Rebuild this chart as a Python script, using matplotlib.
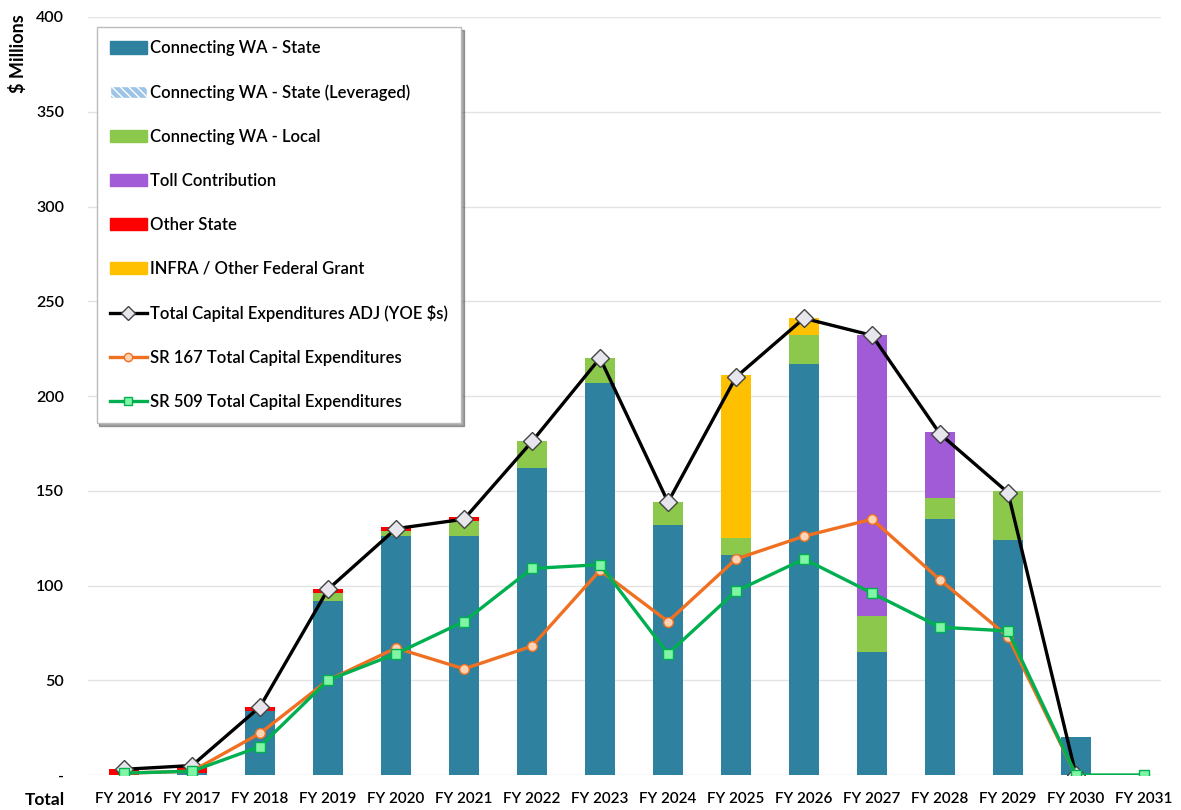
import numpy as np
import matplotlib
matplotlib.use("Agg")
import matplotlib.pyplot as plt
from matplotlib.patches import Patch
from matplotlib.lines import Line2D

plt.rcParams['font.family'] = ['Lato', 'DejaVu Sans']

years = ["FY 2016", "FY 2017", "FY 2018", "FY 2019", "FY 2020", "FY 2021", "FY 2022", "FY 2023",
         "FY 2024", "FY 2025", "FY 2026", "FY 2027", "FY 2028", "FY 2029", "FY 2030", "FY 2031"]

# stacked funding sources ($ millions)
state = [0, 1, 34, 92, 126, 126, 162, 207, 132, 116, 217, 65, 135, 124, 20, 0]
state_leveraged = [0] * 16
local = [0, 0, 0, 4, 3, 8, 14, 13, 12, 9, 15, 19, 11, 26, 0, 0]
toll = [0, 0, 0, 0, 0, 0, 0, 0, 0, 0, 0, 148, 35, 0, 0, 0]
other_state = [3, 3, 2, 2, 2, 2, 0, 0, 0, 0, 0, 0, 0, 0, 0, 0]
infra = [0, 0, 0, 0, 0, 0, 0, 0, 0, 86, 9, 0, 0, 0, 0, 0]

# lines
total_adj = [3, 5, 36, 98, 130, 135, 176, 220, 144, 210, 241, 232, 180, 149, 0, np.nan]
sr167 = [1, 2, 22, 50, 67, 56, 68, 108, 81, 114, 126, 135, 103, 73, 0, np.nan]
sr509 = [1, 2, 15, 50, 64, 81, 109, 111, 64, 97, 114, 96, 78, 76, 0, 0]

c_state = "#2F81A0"
c_lev = "#9DC3E6"
c_local = "#8CC84B"
c_toll = "#A25BD6"
c_other = "#FF0000"
c_infra = "#FFC000"

fig = plt.figure(figsize=(11.81, 8.10), dpi=100)
ax = fig.add_axes([88 / 1181, 1 - 775 / 810, (1161 - 88) / 1181, 758 / 810])

x = np.arange(len(years))
w = 0.45
bottom = np.zeros(len(years))
series = [(state, c_state), (state_leveraged, c_lev), (local, c_local),
          (toll, c_toll), (other_state, c_other), (infra, c_infra)]
for vals, col in series:
    vals = np.array(vals, dtype=float)
    ax.bar(x, vals, w, bottom=bottom, color=col, linewidth=0, zorder=2)
    bottom += vals

ax.plot(x, total_adj, color="black", lw=2.4, marker="D", ms=9, mfc="#E6E6EC",
        mec="#444444", mew=1, zorder=4)
ax.plot(x, sr167, color="#F07021", lw=2.4, marker="o", ms=7, mfc="#FBD3B5",
        mec="#F07021", mew=1, zorder=5)
ax.plot(x, sr509, color="#00B050", lw=2.4, marker="s", ms=7, mfc="#7FF5A5",
        mec="#00B050", mew=1, zorder=6)

ax.set_xlim(-0.53, 15.25)
ax.set_ylim(0, 400)
ax.set_yticks(range(0, 401, 50))
ax.set_yticklabels(["-"] + [str(v) for v in range(50, 401, 50)], fontweight="semibold")
ax.set_xticks(x)
ax.set_xticklabels(years, fontweight="semibold")
ax.tick_params(axis="y", length=0, pad=17, labelsize=11.5)
ax.tick_params(axis="x", length=0, pad=12, labelsize=11)
ax.grid(axis="y", color="#E3E3E3", lw=1, zorder=0)
ax.set_axisbelow(True)
for s in ax.spines.values():
    s.set_visible(False)

fig.text(18 / 1181, 1 - 54 / 810, "$ Millions", rotation=90, ha="center", va="center",
         fontsize=13, fontweight="bold")
fig.text(45 / 1181, 1 - 800 / 810, "Total", ha="center", va="center",
         fontsize=12.5, fontweight="bold")

handles = [
    Patch(facecolor=c_state, edgecolor=c_state),
    Patch(facecolor=c_lev, edgecolor="white", hatch="\\\\\\\\"),
    Patch(facecolor=c_local, edgecolor=c_local),
    Patch(facecolor=c_toll, edgecolor=c_toll),
    Patch(facecolor=c_other, edgecolor=c_other),
    Patch(facecolor=c_infra, edgecolor=c_infra),
    Line2D([], [], color="black", lw=2.4, marker="D", ms=7, mfc="#E6E6EC", mec="#444444"),
    Line2D([], [], color="#F07021", lw=2.4, marker="o", ms=6, mfc="#FBD3B5", mec="#F07021"),
    Line2D([], [], color="#00B050", lw=2.4, marker="s", ms=6, mfc="#7FF5A5", mec="#00B050"),
]
labels = ["Connecting WA - State", "Connecting WA - State (Leveraged)", "Connecting WA - Local",
          "Toll Contribution", "Other State", "INFRA / Other Federal Grant",
          "Total Capital Expenditures ADJ (YOE $s)", "SR 167 Total Capital Expenditures",
          "SR 509 Total Capital Expenditures"]
leg = ax.legend(handles, labels, loc="upper left", bbox_to_anchor=(0.008, 0.987),
                borderaxespad=0, prop={"size": 12, "weight": "semibold"},
                labelspacing=1.68, handlelength=2.2, handleheight=0.8,
                handletextpad=0.2, borderpad=0.8, fancybox=False, shadow=True,
                framealpha=1, edgecolor="#BBBBBB")
leg.set_zorder(10)

fig.savefig("out.png", dpi=100)
